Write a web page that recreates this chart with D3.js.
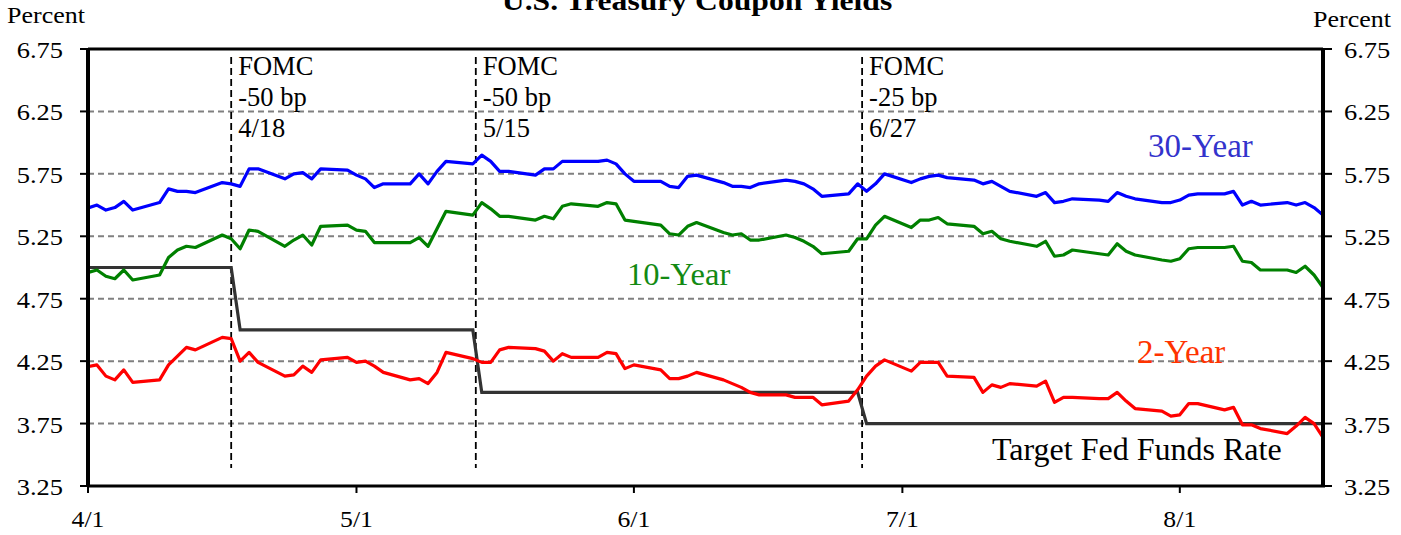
<html>
  <head>
    <style>
      body { margin: 0; background: #fff; }
      text { font-family: "Liberation Serif", "Times New Roman", serif; }
    </style>
  </head>
  <body>
    <script src="https://d3js.org/d3.v7.min.js"></script>
    <script>
      // DATA (daily yields)
      const dates = [
        "2001-03-30",
        "2001-04-02", "2001-04-03", "2001-04-04", "2001-04-05", "2001-04-06",
        "2001-04-09", "2001-04-10", "2001-04-11", "2001-04-12", "2001-04-13",
        "2001-04-16", "2001-04-17", "2001-04-18", "2001-04-19", "2001-04-20",
        "2001-04-23", "2001-04-24", "2001-04-25", "2001-04-26", "2001-04-27",
        "2001-04-30", "2001-05-01", "2001-05-02", "2001-05-03", "2001-05-04",
        "2001-05-07", "2001-05-08", "2001-05-09", "2001-05-10", "2001-05-11",
        "2001-05-14", "2001-05-15", "2001-05-16", "2001-05-17", "2001-05-18",
        "2001-05-21", "2001-05-22", "2001-05-23", "2001-05-24", "2001-05-25",
        "2001-05-28", "2001-05-29", "2001-05-30", "2001-05-31", "2001-06-01",
        "2001-06-04", "2001-06-05", "2001-06-06", "2001-06-07", "2001-06-08",
        "2001-06-11", "2001-06-12", "2001-06-13", "2001-06-14", "2001-06-15",
        "2001-06-18", "2001-06-19", "2001-06-20", "2001-06-21", "2001-06-22",
        "2001-06-25", "2001-06-26", "2001-06-27", "2001-06-28", "2001-06-29",
        "2001-07-02", "2001-07-03", "2001-07-04", "2001-07-05", "2001-07-06",
        "2001-07-09", "2001-07-10", "2001-07-11", "2001-07-12", "2001-07-13",
        "2001-07-16", "2001-07-17", "2001-07-18", "2001-07-19", "2001-07-20",
        "2001-07-23", "2001-07-24", "2001-07-25", "2001-07-26", "2001-07-27",
        "2001-07-30", "2001-07-31", "2001-08-01", "2001-08-02", "2001-08-03",
        "2001-08-06", "2001-08-07", "2001-08-08", "2001-08-09", "2001-08-10",
        "2001-08-13", "2001-08-14", "2001-08-15", "2001-08-16", "2001-08-17"
      ];
      const yield30 = [
        5.43,
        5.50, 5.46, 5.48, 5.53, 5.46,
        5.52, 5.63, 5.61, 5.61, 5.60,
        5.68, 5.67, 5.65, 5.79, 5.79,
        5.71, 5.75, 5.76, 5.71, 5.79,
        5.78, 5.74, 5.71, 5.64, 5.67,
        5.67, 5.75, 5.67, 5.77, 5.85,
        5.83, 5.90, 5.85, 5.77, 5.77,
        5.74, 5.79, 5.79, 5.85, 5.85,
        5.85, 5.86, 5.83, 5.75, 5.69,
        5.69, 5.65, 5.64, 5.73, 5.74,
        5.68, 5.65, 5.65, 5.64, 5.67,
        5.70, 5.69, 5.67, 5.63, 5.57,
        5.59, 5.67, 5.61, 5.67, 5.75,
        5.68, 5.71, 5.73, 5.74, 5.72,
        5.70, 5.67, 5.69, 5.65, 5.61,
        5.57, 5.60, 5.52, 5.53, 5.55,
        5.54, 5.53, 5.60, 5.57, 5.55,
        5.52, 5.52, 5.54, 5.58, 5.59,
        5.59, 5.61, 5.50, 5.53, 5.50,
        5.52, 5.50, 5.52, 5.48, 5.42
      ];
      const yield10 = [
        4.92,
        4.98, 4.93, 4.91, 4.98, 4.90,
        4.94, 5.08, 5.14, 5.17, 5.16,
        5.26, 5.23, 5.15, 5.30, 5.29,
        5.17, 5.22, 5.26, 5.18, 5.33,
        5.34, 5.30, 5.29, 5.20, 5.20,
        5.20, 5.24, 5.17, 5.31, 5.45,
        5.42, 5.52, 5.47, 5.41, 5.41,
        5.38, 5.41, 5.39, 5.49, 5.51,
        5.49, 5.52, 5.51, 5.38, 5.37,
        5.34, 5.27, 5.26, 5.33, 5.36,
        5.28, 5.26, 5.27, 5.22, 5.22,
        5.26, 5.24, 5.21, 5.17, 5.11,
        5.13, 5.23, 5.23, 5.34, 5.41,
        5.32, 5.38, 5.38, 5.40, 5.35,
        5.33, 5.27, 5.29, 5.23, 5.21,
        5.17, 5.21, 5.09, 5.10, 5.14,
        5.11, 5.10, 5.19, 5.13, 5.10,
        5.06, 5.05, 5.07, 5.15, 5.16,
        5.16, 5.17, 5.05, 5.04, 4.98,
        4.98, 4.96, 5.01, 4.94, 4.84
      ];
      const yield2 = [
        4.18,
        4.22, 4.13, 4.10, 4.18, 4.08,
        4.10, 4.22, 4.29, 4.36, 4.34,
        4.44, 4.43, 4.25, 4.32, 4.24,
        4.13, 4.14, 4.21, 4.16, 4.26,
        4.28, 4.24, 4.25, 4.21, 4.16,
        4.10, 4.11, 4.07, 4.16, 4.32,
        4.27, 4.24, 4.24, 4.34, 4.36,
        4.35, 4.33, 4.25, 4.31, 4.28,
        4.28, 4.32, 4.31, 4.19, 4.22,
        4.18, 4.11, 4.11, 4.13, 4.16,
        4.10, 4.07, 4.04, 4.00, 3.98,
        3.98, 3.96, 3.96, 3.96, 3.90,
        3.93, 4.02, 4.13, 4.21, 4.26,
        4.17, 4.24, 4.24, 4.24, 4.13,
        4.12, 4.00, 4.06, 4.04, 4.07,
        4.05, 4.09, 3.92, 3.96, 3.96,
        3.95, 3.95, 4.00, 3.93, 3.87,
        3.85, 3.81, 3.82, 3.91, 3.91,
        3.86, 3.88, 3.74, 3.74, 3.71,
        3.67, 3.73, 3.80, 3.75, 3.64
      ];
      // target fed funds rate, as a step path
      const fedDates = ["2001-04-01", "2001-04-17", "2001-04-18", "2001-05-14", "2001-05-15", "2001-06-26", "2001-06-27", "2001-08-17"];
      const fedRate = [5.0, 5.0, 4.5, 4.5, 4.0, 4.0, 3.75, 3.75];

      // FOMC annotations
      const fomcLineDates = ["2001-04-17T00:00", "2001-05-14T08:00", "2001-06-26T12:00"];
      const fomcLabels = [
        ["FOMC", "-50 bp", "4/18"],
        ["FOMC", "-50 bp", "5/15"],
        ["FOMC", "-25 bp", "6/27"]
      ];

      const yTicks = [3.25, 3.75, 4.25, 4.75, 5.25, 5.75, 6.25, 6.75];
      const xStart = "2001-04-01", xEnd = "2001-08-17";

      const parse = d3.timeParse("%Y-%m-%d");

      const W = 1401, H = 535;
      const mLeft = 88, mRight = 1323, mTop = 49, mBottom = 486;

      const svg = d3.select("body").append("svg")
        .attr("width", W).attr("height", H);

      const x = d3.scaleTime().domain([parse(xStart), parse(xEnd)]).range([mLeft, mRight]);
      const y = d3.scaleLinear().domain([3.25, 6.75]).range([mBottom, mTop]);

      // stretched text helper (axis labels in the original are a bit wide)
      function label(g, tx, ty, str, size, anchor, sx, color, weight) {
        return g.append("text")
          .attr("transform", `translate(${tx},${ty}) scale(${sx},1)`)
          .attr("text-anchor", anchor)
          .style("font-size", size + "px")
          .style("font-weight", weight || "normal")
          .attr("fill", color || "#000")
          .text(str);
      }

      // title (cut off at the top, as in the original)
      label(svg, 697, 10, "U.S. Treasury Coupon Yields", 28, "middle", 1.13, "#000", "bold");
      label(svg, 7, 23, "Percent", 23, "start", 1.13);
      label(svg, 1313, 27, "Percent", 23, "start", 1.13);

      // gridlines
      svg.append("g").selectAll("line")
        .data(yTicks.filter((d) => d > 3.25 && d < 6.75))
        .enter().append("line")
        .attr("x1", mLeft).attr("x2", mRight)
        .attr("y1", (d) => y(d)).attr("y2", (d) => y(d))
        .attr("stroke", "#808080")
        .attr("stroke-width", 2)
        .attr("stroke-dasharray", "6,4");

      // FOMC lines
      svg.append("g").selectAll("line")
        .data(fomcLineDates)
        .enter().append("line")
        .attr("x1", (d) => x(new Date(d))).attr("x2", (d) => x(new Date(d)))
        .attr("y1", 57).attr("y2", 468)
        .attr("stroke", "#000")
        .attr("stroke-width", 1.8)
        .attr("stroke-dasharray", "7,4");

      fomcLabels.forEach((lines, i) => {
        const lx = x(new Date(fomcLineDates[i])) + 7;
        lines.forEach((s, j) => {
          svg.append("text")
            .attr("x", lx).attr("y", 75 + j * 31)
            .style("font-size", "26.5px")
            .text(s);
        });
      });

      // series
      svg.append("clipPath").attr("id", "plot")
        .append("rect").attr("x", mLeft).attr("y", mTop)
        .attr("width", mRight - mLeft).attr("height", mBottom - mTop);

      const series = [
        { values: yield30, color: "#0000ff" },
        { values: yield10, color: "#008000" },
        { values: yield2, color: "#ff0000" }
      ];
      const line = d3.line().x((d) => x(d[0])).y((d) => y(d[1]));
      const lineG = svg.append("g").attr("clip-path", "url(#plot)");

      lineG.append("path")
        .datum(fedDates.map((d, i) => [parse(d), fedRate[i]]))
        .attr("d", line)
        .attr("fill", "none")
        .attr("stroke", "#333333")
        .attr("stroke-width", 3.2);

      series.forEach((s) => {
        lineG.append("path")
          .datum(dates.map((d, i) => [parse(d), s.values[i]]))
          .attr("d", line)
          .attr("fill", "none")
          .attr("stroke", s.color)
          .attr("stroke-width", 3.2)
          .attr("stroke-linejoin", "round");
      });

      // series labels
      svg.append("text").attr("x", 1148).attr("y", 157)
        .style("font-size", "33px").attr("fill", "#3333cc").text("30-Year");
      svg.append("text").attr("x", 627).attr("y", 285)
        .style("font-size", "32.5px").attr("fill", "#138a13").text("10-Year");
      svg.append("text").attr("x", 1137).attr("y", 363)
        .style("font-size", "33px").attr("fill", "#ff3300").text("2-Year");
      svg.append("text").attr("x", 992).attr("y", 460)
        .style("font-size", "32px").attr("fill", "#000").text("Target Fed Funds Rate");

      // frame
      const frame = svg.append("g").attr("stroke", "#000");
      frame.append("line").attr("x1", mLeft).attr("x2", mRight).attr("y1", mTop).attr("y2", mTop).attr("stroke-width", 3);
      frame.append("line").attr("x1", mLeft).attr("x2", mRight + 2).attr("y1", mBottom).attr("y2", mBottom).attr("stroke-width", 3);
      frame.append("line").attr("x1", mLeft).attr("x2", mLeft).attr("y1", mTop - 1).attr("y2", mBottom + 1).attr("stroke-width", 4);
      frame.append("line").attr("x1", mRight).attr("x2", mRight).attr("y1", mTop - 1).attr("y2", mBottom + 1).attr("stroke-width", 4);

      // y ticks, both sides
      const yAxisG = svg.append("g");
      yTicks.forEach((t) => {
        yAxisG.append("line").attr("x1", mLeft - 8).attr("x2", mLeft).attr("y1", y(t)).attr("y2", y(t))
          .attr("stroke", "#000").attr("stroke-width", 2);
        yAxisG.append("line").attr("x1", mRight).attr("x2", mRight + 9).attr("y1", y(t)).attr("y2", y(t))
          .attr("stroke", "#000").attr("stroke-width", 2);
        label(yAxisG, 63, y(t) + 9, d3.format(".2f")(t), 23, "end", 1.15);
        label(yAxisG, 1344, y(t) + 9, d3.format(".2f")(t), 23, "start", 1.15);
      });

      // x ticks
      const xTicks = d3.timeMonth.range(parse(xStart), parse(xEnd));
      const fmt = d3.timeFormat("%-m/%-d");
      const xAxisG = svg.append("g");
      xTicks.forEach((t) => {
        xAxisG.append("line").attr("x1", x(t)).attr("x2", x(t)).attr("y1", mBottom).attr("y2", mBottom + 7)
          .attr("stroke", "#000").attr("stroke-width", 2);
        label(xAxisG, x(t), 527, fmt(t), 23, "middle", 1.12);
      });
    </script>
  </body>
</html>
